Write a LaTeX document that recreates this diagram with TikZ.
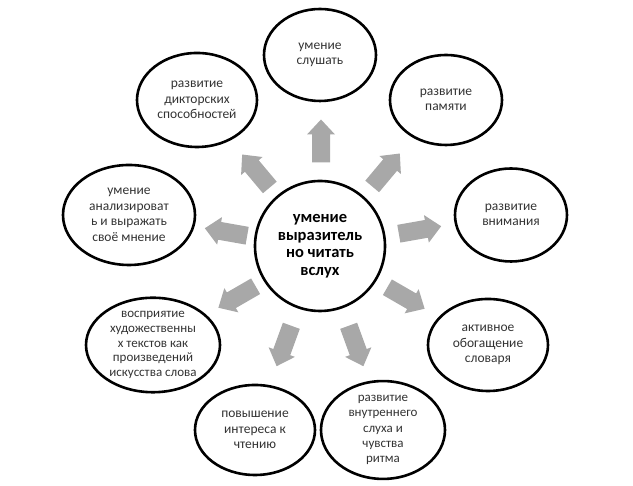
\documentclass[tikz,border=0pt]{standalone}
\usepackage{fontspec}
\setmainfont{Carlito}
\usetikzlibrary{shapes.geometric}
\definecolor{arrgray}{HTML}{A8A8A8}
\tikzset{
  x=1pt,y=1pt,
  bubble/.style={ellipse, draw=black, line width=2.6pt, inner sep=0pt, align=center,
    font=\fontsize{13.5}{15.5}\selectfont, text=black!80},
  hub/.style={circle, draw=black, line width=2.6pt, inner sep=0pt, align=center,
    minimum size=130pt, font=\fontsize{16.5}{17.5}\selectfont\bfseries},
  barr/.pic={\fill[arrgray] (-21.5,-9) -- (6.5,-9) -- (6.5,-14) -- (21.5,0) -- (6.5,14) -- (6.5,9) -- (-21.5,9) -- cycle;}
}
\begin{document}
\begin{tikzpicture}
\useasboundingbox (0,0) rectangle (633,486);
% centre
\node[hub] (c) at (320,240) {умение\\выразитель\\но читать\\вслух};
% outer bubbles
\node[bubble, minimum width=112pt, minimum height=92pt] (n1) at (320,431) {умение\\слушать};
\node[bubble, minimum width=120pt, minimum height=94pt] (n2) at (197,386) {развитие\\дикторских\\способностей};
\node[bubble, minimum width=112pt, minimum height=90pt] (n3) at (446,386) {развитие\\памяти};
\node[bubble, minimum width=112pt, minimum height=93pt] (n4) at (511,271) {развитие\\внимания};
\node[bubble, minimum width=132pt, minimum height=100pt] (n5) at (129,271) {умение\\анализироват\\ь и выражать\\своё мнение};
\node[bubble, minimum width=134pt, minimum height=94pt, font=\fontsize{13}{14.6}\selectfont] (n6) at (153,141) {восприятие\\художественны\\х текстов как\\произведений\\искусства слова};
\node[bubble, minimum width=120pt, minimum height=92pt] (n7) at (488,141) {активное\\обогащение\\словаря};
\node[bubble, minimum width=120pt, minimum height=90pt] (n8) at (255,56) {повышение\\интереса к\\чтению};
\node[bubble, minimum width=124pt, minimum height=95pt, font=\fontsize{13}{15.2}\selectfont] (n9) at (383,56) {развитие\\внутреннего\\слуха и\\чувства\\ритма};
% block arrows
\pic[rotate=90]  at (321,345) {barr};
\pic[rotate=130] at (256,315) {barr};
\pic[rotate=50]  at (386,316) {barr};
\pic[rotate=10]  at (420,256) {barr};
\pic[rotate=170] at (226,254) {barr};
\pic[rotate=210] at (237,189) {barr};
\pic[rotate=330] at (406,188) {barr};
\pic[rotate=250] at (284,140) {barr};
\pic[rotate=290] at (356,140) {barr};
\end{tikzpicture}
\end{document}
